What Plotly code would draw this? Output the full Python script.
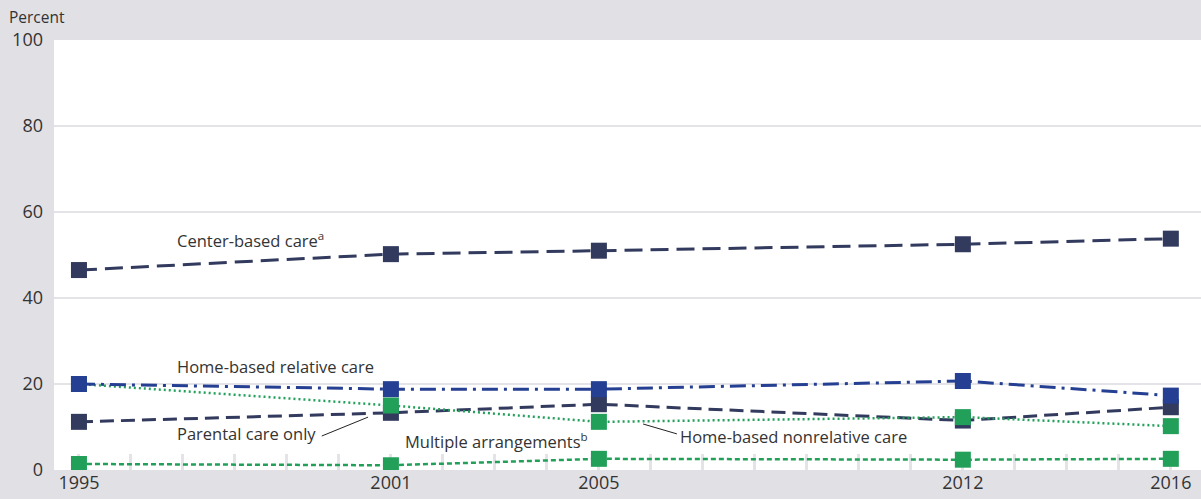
import plotly.graph_objects as go

years = [1995, 2001, 2005, 2012, 2016]
center_based = [46.5, 50.2, 51.0, 52.5, 53.8]
home_relative = [20.0, 18.8, 18.8, 20.7, 17.3]
parental_only = [11.2, 13.3, 15.3, 11.5, 14.6]
home_nonrelative = [20.0, 15.0, 11.2, 12.3, 10.2]
multiple = [1.4, 1.1, 2.6, 2.4, 2.6]

NAVY = "#323a5e"
BLUE = "#253f92"
GREEN = "#22a05a"
BG = "#e1e0e5"
FONT = "Open Sans"

fig = go.Figure()

def add_series(vals, color, dash, width):
    fig.add_trace(go.Scatter(
        x=years, y=vals, mode="lines+markers",
        line=dict(color=color, dash=dash, width=width),
        marker=dict(symbol="square", size=16, color=color),
        showlegend=False, hoverinfo="skip"))

# drawing order: lower layers first
add_series(multiple, GREEN, "5px,3px", 2.5)
add_series(parental_only, NAVY, "14px,7px", 3)
add_series(home_nonrelative, GREEN, "2px,3px", 2.5)
add_series(home_relative, BLUE, "16px,6px,3px,6px", 3)
add_series(center_based, NAVY, "18px,8px", 3)

txt = dict(family=FONT, size=16.5, color="#333333")
notes = [
    (1996.85, 53.5, "Center-based care<sup>a</sup>"),
    (1996.85, 24.0, "Home-based relative care"),
    (1996.85, 8.4, "Parental care only"),
    (2001.23, 6.7, "Multiple arrangements<sup>b</sup>"),
    (2006.52, 7.9, "Home-based nonrelative care"),
]
for x, y, t in notes:
    fig.add_annotation(x=x, y=y, text=t, showarrow=False, xanchor="left",
                       yanchor="middle", font=txt)

# leader lines
fig.add_shape(type="line", x0=1999.67, y0=7.9, x1=2000.56, y1=12.3,
              line=dict(color="#222222", width=1))
fig.add_shape(type="line", x0=2005.85, y0=10.7, x1=2006.5, y1=8.4,
              line=dict(color="#222222", width=1))

fig.add_annotation(text="Percent", xref="paper", yref="paper", x=0, y=1,
                   xshift=-47, yshift=23, xanchor="left", yanchor="middle",
                   showarrow=False, font=dict(family=FONT, size=15.5, color="#333333"))

fig.update_layout(
    width=1201, height=499,
    margin=dict(l=54, r=0, t=40, b=29),
    paper_bgcolor=BG, plot_bgcolor="white",
    font=dict(family=FONT, color="#333333"),
    xaxis=dict(range=[1994.52, 2016.58], tickvals=years,
               ticks="inside", ticklen=16, tickwidth=3, tickcolor="#e4e3e8",
               minor=dict(tick0=1995, dtick=1, ticks="inside", ticklen=16,
                          tickwidth=3, tickcolor="#e4e3e8", showgrid=False),
               showgrid=False, zeroline=False, showline=False,
               layer="below traces",
               tickfont=dict(family=FONT, size=18, color="#333333")),
    yaxis=dict(range=[0, 100], tickvals=[0, 20, 40, 60, 80, 100],
               showgrid=True, gridcolor="#e4e3e8", gridwidth=2,
               zeroline=False, showline=False, ticks="", ticklabelstandoff=10,
               layer="below traces",
               tickfont=dict(family=FONT, size=18, color="#333333")),
)

fig.write_html("out.html", config={"displayModeBar": False},
               post_script="document.body.style.margin='0';")
